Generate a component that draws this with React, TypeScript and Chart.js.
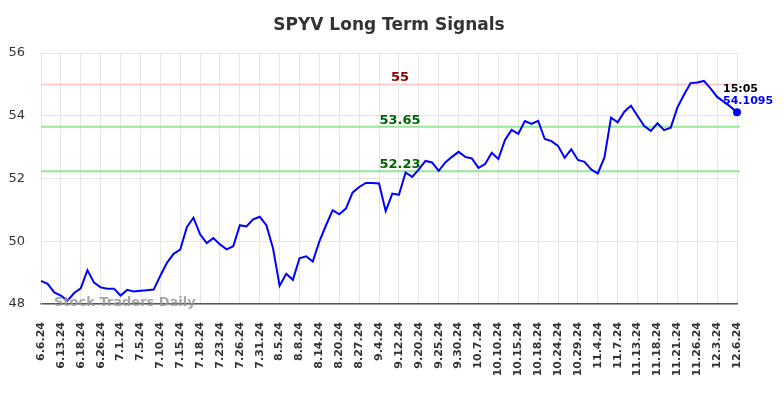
import React, { useEffect, useRef } from "react";
import { Chart, registerables } from "chart.js";

Chart.register(...registerables);

const dateLabels: string[] = [
  "6.6.24", "6.7.24", "6.11.24", "6.13.24", "6.14.24", "6.17.24", "6.18.24", "6.20.24", "6.24.24", "6.26.24",
  "6.27.24", "6.28.24", "7.1.24", "7.2.24", "7.3.24", "7.5.24", "7.8.24", "7.9.24", "7.10.24", "7.11.24",
  "7.12.24", "7.15.24", "7.16.24", "7.17.24", "7.18.24", "7.19.24", "7.22.24", "7.23.24", "7.24.24", "7.25.24",
  "7.26.24", "7.29.24", "7.30.24", "7.31.24", "8.1.24", "8.2.24", "8.5.24", "8.6.24", "8.7.24", "8.8.24",
  "8.9.24", "8.13.24", "8.14.24", "8.15.24", "8.19.24", "8.20.24", "8.22.24", "8.26.24", "8.27.24", "8.29.24",
  "8.30.24", "9.4.24", "9.6.24", "9.10.24", "9.12.24", "9.16.24", "9.18.24", "9.20.24", "9.23.24", "9.24.24",
  "9.25.24", "9.26.24", "9.27.24", "9.30.24", "10.2.24", "10.4.24", "10.7.24", "10.8.24", "10.9.24", "10.10.24",
  "10.11.24", "10.14.24", "10.15.24", "10.16.24", "10.17.24", "10.18.24", "10.21.24", "10.23.24", "10.24.24", "10.25.24",
  "10.28.24", "10.29.24", "10.31.24", "11.1.24", "11.4.24", "11.5.24", "11.6.24", "11.7.24", "11.8.24", "11.12.24",
  "11.13.24", "11.14.24", "11.15.24", "11.18.24", "11.19.24", "11.20.24", "11.21.24", "11.22.24", "11.25.24", "11.26.24",
  "11.27.24", "11.29.24", "12.3.24", "12.4.24", "12.5.24", "12.6.24",
];

const prices: number[] = [
  48.74, 48.64, 48.37, 48.27, 48.11, 48.35, 48.5, 49.08, 48.68, 48.53,
  48.49, 48.49, 48.27, 48.45, 48.4, 48.42, 48.44, 48.46, 48.9, 49.31,
  49.6, 49.73, 50.45, 50.75, 50.22, 49.94, 50.1, 49.9, 49.74, 49.84,
  50.51, 50.47, 50.7, 50.78, 50.51, 49.78, 48.58, 48.96, 48.77, 49.46,
  49.52, 49.35, 50.0, 50.51, 50.99, 50.86, 51.04, 51.55, 51.73, 51.86,
  51.86, 51.84, 50.96, 51.52, 51.48, 52.19, 52.05, 52.29, 52.56, 52.51,
  52.24, 52.51, 52.69, 52.85, 52.69, 52.64, 52.34, 52.46, 52.82, 52.62,
  53.23, 53.55, 53.42, 53.83, 53.74, 53.84, 53.26, 53.19, 53.04, 52.66,
  52.93, 52.59, 52.53, 52.29, 52.16, 52.67, 53.94, 53.79, 54.13, 54.32,
  53.99, 53.67, 53.52, 53.76, 53.54, 53.62, 54.26, 54.67, 55.04, 55.06,
  55.11, 54.87, 54.6, 54.45, 54.29, 54.1095,
];

const yTicks: number[] = [48, 50, 52, 54, 56];

const signalLevels: number[] = [55, 53.65, 52.23];
const signalLabels: string[] = ["55", "53.65", "52.23"];
const signalLineColors: string[] = ["#ffcccc", "#99e699", "#99e699"];
const signalTextColors: string[] = ["#8b0000", "#006400", "#006400"];

const titleText = "SPYV Long Term Signals";
const lastTime = "15:05";
const lastValueText = "54.1095";
const watermark = "Stock Traders Daily";

const FONT = "'DejaVu Sans', sans-serif";

const overlayPlugin = {
  id: "overlay",
  beforeDatasetsDraw(chart: any) {
    const { ctx, chartArea } = chart;
    const y = chart.scales.y;
    ctx.save();
    signalLevels.forEach((lvl, i) => {
      const py = y.getPixelForValue(lvl);
      ctx.strokeStyle = signalLineColors[i];
      ctx.lineWidth = 2;
      ctx.beginPath();
      ctx.moveTo(chartArea.left, py);
      ctx.lineTo(chartArea.right + 3, py);
      ctx.stroke();
    });
    ctx.restore();
  },
  afterDraw(chart: any) {
    const { ctx, chartArea } = chart;
    const y = chart.scales.y;
    const x = chart.scales.x;
    ctx.save();
    // title
    ctx.fillStyle = "#333333";
    ctx.font = `bold 17px ${FONT}`;
    ctx.textAlign = "center";
    ctx.textBaseline = "middle";
    ctx.fillText(titleText, (chartArea.left + chartArea.right) / 2, 26);

    // signal labels
    const cx = (chartArea.left + chartArea.right) / 2 + 11;
    ctx.font = `bold 13px ${FONT}`;
    ctx.textBaseline = "bottom";
    signalLevels.forEach((lvl, i) => {
      const py = y.getPixelForValue(lvl);
      ctx.fillStyle = signalTextColors[i];
      ctx.fillText(signalLabels[i], cx, py);
    });

    // watermark
    ctx.font = `bold 13px ${FONT}`;
    ctx.textAlign = "left";
    ctx.textBaseline = "middle";
    ctx.fillStyle = "rgba(150,150,150,0.85)";
    ctx.fillText(watermark, chartArea.left + 13, chartArea.bottom - 1);

    // last point annotation
    const li = prices.length - 1;
    const lx = x.getPixelForValue(li);
    const ly = y.getPixelForValue(prices[li]);
    ctx.fillStyle = "#0000ff";
    ctx.beginPath();
    ctx.arc(lx, ly, 4, 0, Math.PI * 2);
    ctx.fill();
    ctx.textAlign = "left";
    ctx.textBaseline = "middle";
    ctx.font = `bold 11px ${FONT}`;
    ctx.fillStyle = "#000000";
    ctx.fillText(lastTime, lx - 14, ly - 23);
    ctx.fillStyle = "#0000ff";
    ctx.fillText(lastValueText, lx - 14, ly - 11);
    ctx.restore();
  },
};

export default function App() {
  const canvasRef = useRef<HTMLCanvasElement | null>(null);

  useEffect(() => {
    document.body.style.margin = "0";
    const canvas = canvasRef.current;
    if (!canvas) return;
    const chart = new Chart(canvas, {
      type: "line",
      data: {
        labels: dateLabels,
        datasets: [
          {
            data: prices,
            borderColor: "#0000ff",
            borderWidth: 2,
            pointRadius: 0,
            tension: 0,
            fill: false,
          },
        ],
      },
      plugins: [overlayPlugin],
      options: {
        animation: false,
        responsive: false,
        maintainAspectRatio: false,
        layout: { padding: { top: 53, left: 8, right: 47, bottom: 0 } },
        plugins: {
          legend: { display: false },
          title: { display: false },
          tooltip: { enabled: false },
        },
        scales: {
          x: {
            type: "category",
            offset: false,
            afterFit: (axis: any) => {
              axis.height = 94;
            },
            grid: {
              color: "#e6e6e6",
              lineWidth: 1,
              drawTicks: false,
            },
            border: { color: "#555555", width: 1.5 },
            ticks: {
              autoSkip: false,
              maxRotation: 90,
              minRotation: 90,
              padding: 18,
              color: "#333333",
              font: { family: FONT, size: 11, weight: "bold" },
              callback: (_v: any, idx: number) => (idx % 3 === 0 ? dateLabels[idx] : null),
            },
          },
          y: {
            min: yTicks[0],
            max: yTicks[yTicks.length - 1],
            afterFit: (axis: any) => {
              axis.width = 33;
            },
            afterBuildTicks: (axis: any) => {
              axis.ticks = yTicks.map((v) => ({ value: v }));
            },
            grid: { color: "#e6e6e6", lineWidth: 1, drawTicks: false },
            border: { color: "#e6e6e6" },
            ticks: {
              padding: 16,
              color: "#333333",
              font: { family: FONT, size: 13 },
            },
          },
        },
      },
    });
    return () => chart.destroy();
  }, []);

  return (
    <div style={{ position: "fixed", left: 0, top: 0, width: 784, height: 398 }}>
      <canvas ref={canvasRef} width={784} height={398} style={{ width: 784, height: 398 }} />
    </div>
  );
}
